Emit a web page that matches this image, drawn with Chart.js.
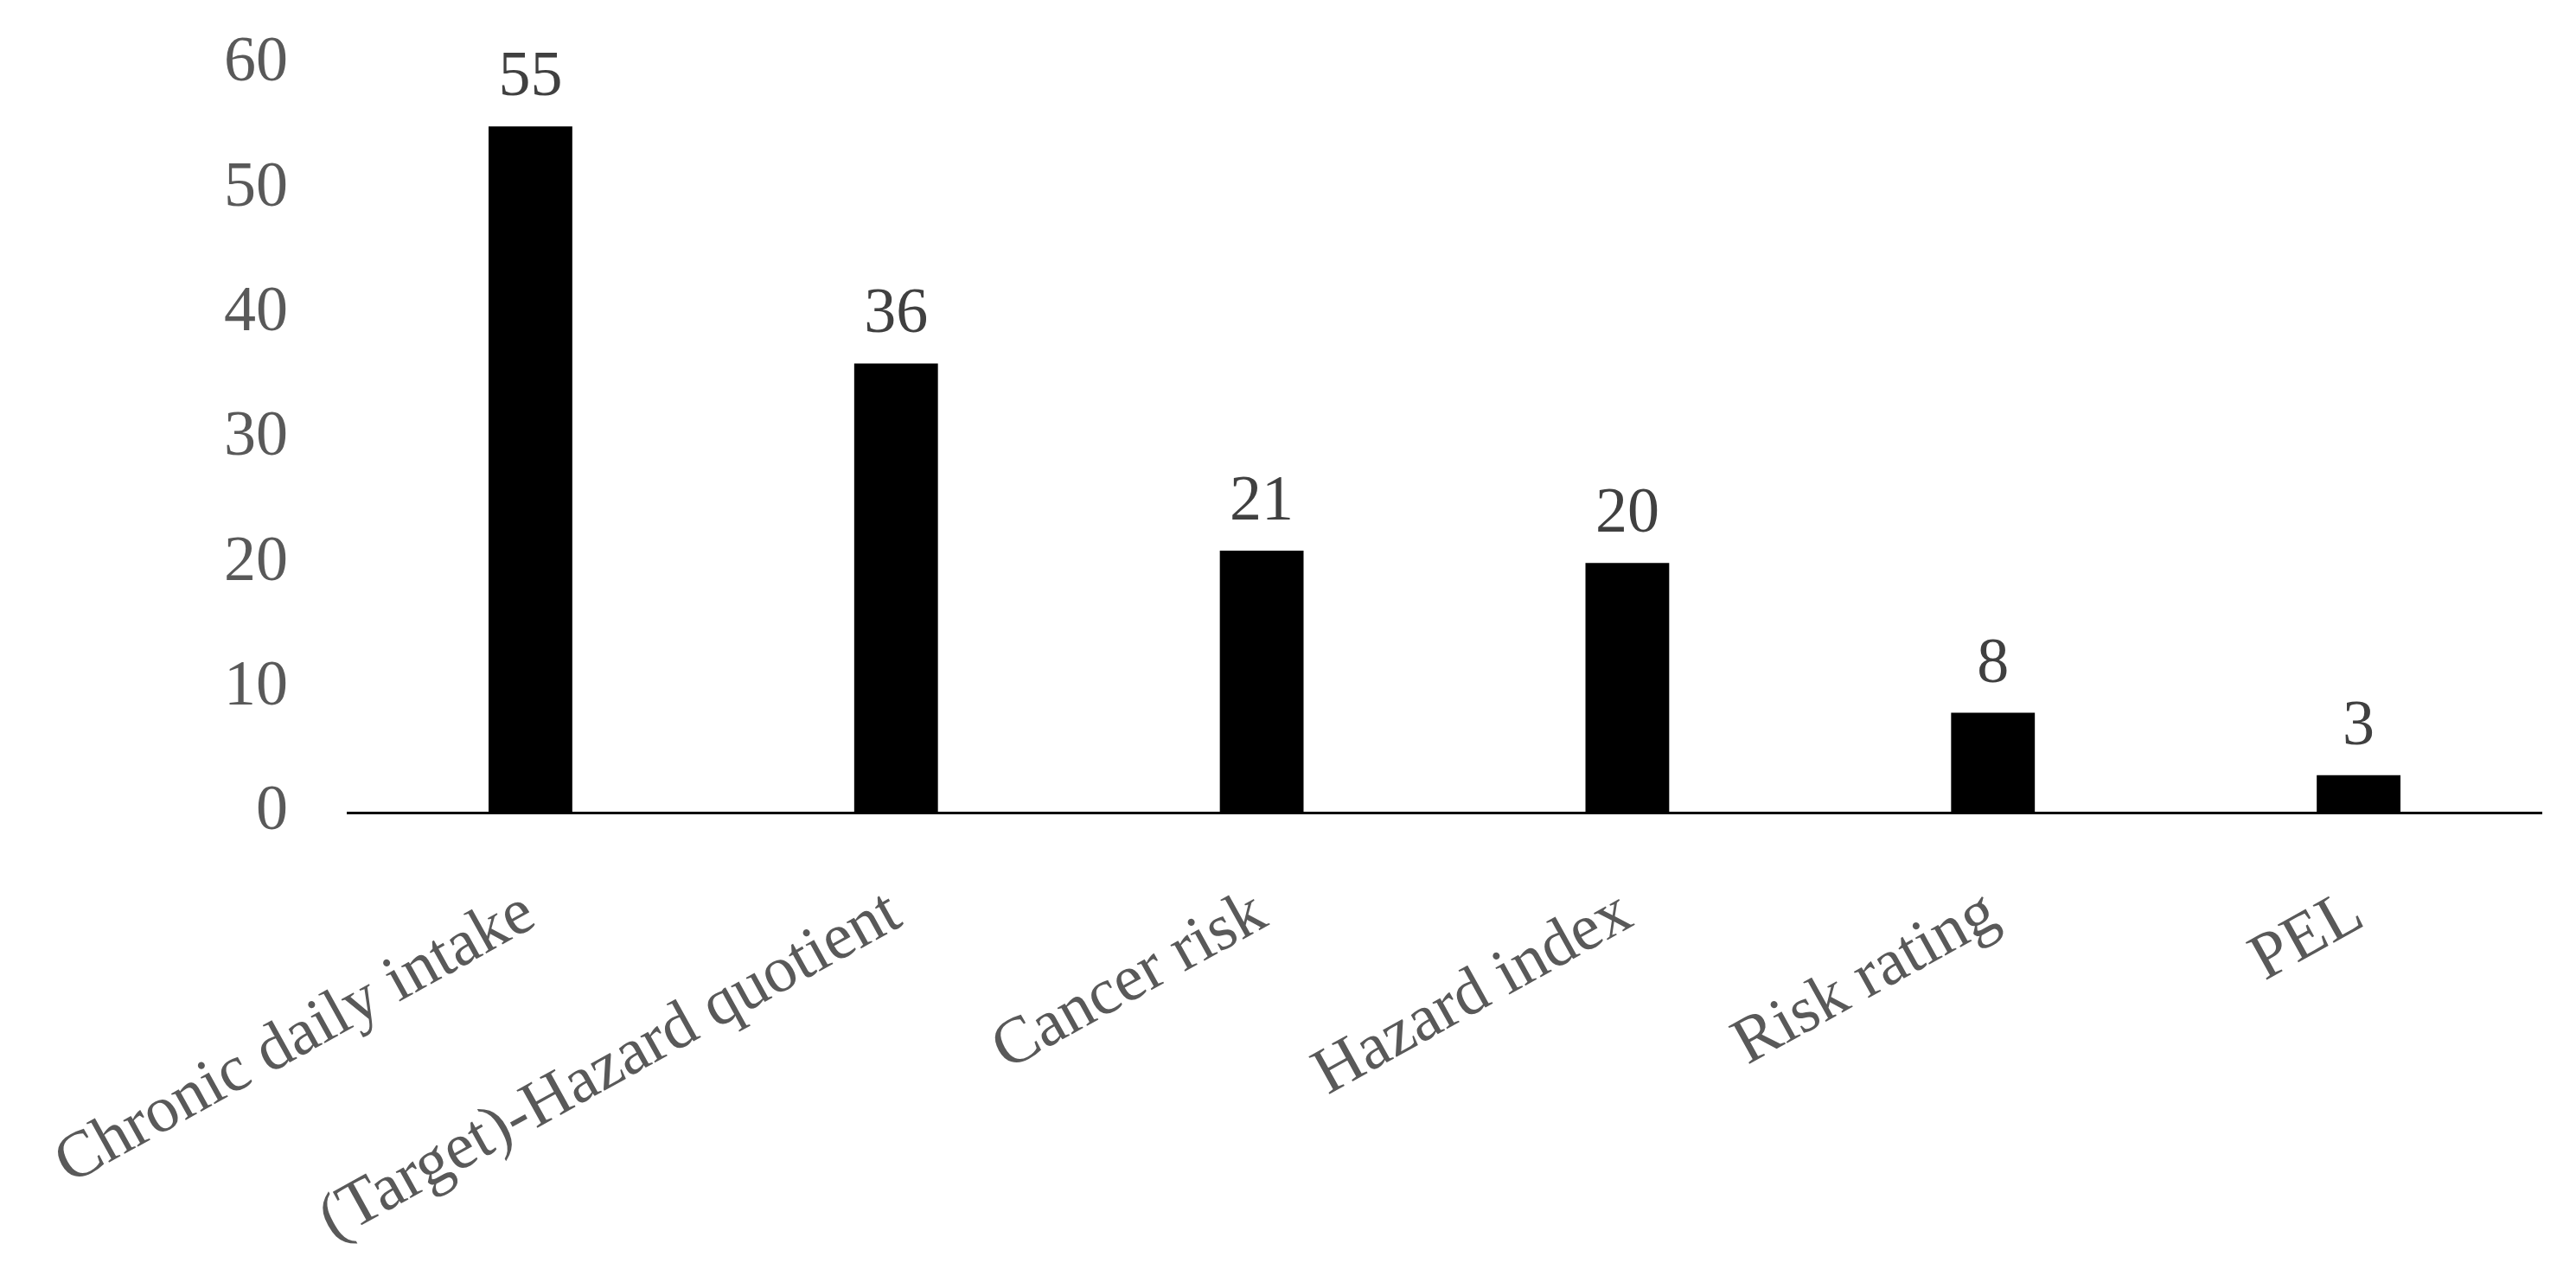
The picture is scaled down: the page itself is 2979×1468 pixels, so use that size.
<!DOCTYPE html>
<html>
<head>
<meta charset="utf-8">
<script src="https://cdn.jsdelivr.net/npm/chart.js@4/dist/chart.umd.min.js"></script>
<style>
  html, body { margin: 0; padding: 0; background: #ffffff; }
  #wrap { width: 2979px; height: 1468px; }
</style>
</head>
<body>
<div id="wrap"><canvas id="c" width="2979" height="1468"></canvas></div>
<script>
const categories = ["Chronic daily intake", "(Target)-Hazard quotient", "Cancer risk", "Hazard index", "Risk rating", "PEL"];
const values = [55, 36, 21, 20, 8, 3];
const yMin = 0;
const yMax = 60;
const yStep = 10;

const valueLabels = {
  id: 'valueLabels',
  afterDatasetsDraw(chart) {
    const ctx = chart.ctx;
    const meta = chart.getDatasetMeta(0);
    ctx.save();
    ctx.font = '74px "Liberation Serif", "Times New Roman", serif';
    ctx.fillStyle = '#404040';
    ctx.textAlign = 'center';
    ctx.textBaseline = 'alphabetic';
    meta.data.forEach((bar, i) => {
      ctx.fillText(String(values[i]), bar.x, bar.y - 36);
    });
    ctx.restore();
  }
};

new Chart(document.getElementById('c'), {
  type: 'bar',
  data: {
    labels: categories,
    datasets: [{
      data: values,
      backgroundColor: '#000000',
      borderWidth: 0,
      barPercentage: 0.229,
      categoryPercentage: 1.0
    }]
  },
  options: {
    responsive: false,
    animation: false,
    devicePixelRatio: 1,
    layout: { padding: { top: 74, right: 40, left: 0, bottom: 0 } },
    plugins: {
      legend: { display: false },
      tooltip: { enabled: false }
    },
    scales: {
      x: {
        grid: { display: false, drawTicks: false },
        border: { display: true, color: '#000000', width: 3 },
        ticks: {
          color: '#595959',
          font: { family: '"Liberation Serif", "Times New Roman", serif', size: 76 },
          maxRotation: 29,
          minRotation: 29,
          autoSkip: false,
          padding: 72
        },
        afterFit(scale) {
          scale.height = 528;
          scale.paddingLeft = 0;
          scale.paddingRight = 0;
        }
      },
      y: {
        min: yMin,
        max: yMax,
        grid: { display: false, drawTicks: false },
        border: { display: false },
        ticks: {
          stepSize: yStep,
          color: '#595959',
          font: { family: '"Liberation Serif", "Times New Roman", serif', size: 74 },
          padding: 69
        },
        afterFit(scale) {
          scale.width = 402;
          scale.paddingTop = 0;
          scale.paddingBottom = 0;
        }
      }
    }
  },
  plugins: [valueLabels]
});
</script>
</body>
</html>
